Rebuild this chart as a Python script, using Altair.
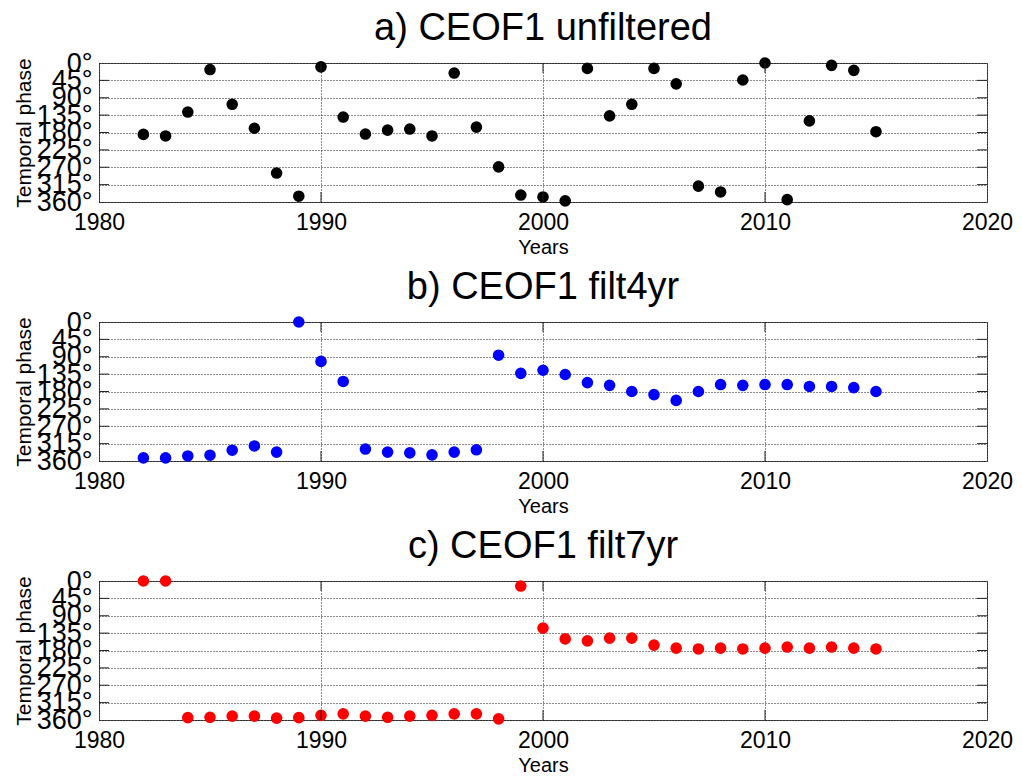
import altair as alt
import pandas as pd

# ---- data ----
years = list(range(1982, 2016))
phase_a = [185, 189, 127, 17, 107, 169, 285, 345, 10, 140, 184, 174, 171, 189, 26, 166,
           269, 342, 347, 357, 14, 137, 107, 14, 54, 319, 334, 44, 0, 354, 150, 6, 19, 178]
phase_b = [352, 352, 347, 345, 332, 321, 337, 0, 102, 154, 329, 337, 339, 344, 337, 331,
           86, 133, 125, 136, 157, 164, 180, 188, 203, 180, 162, 164, 162, 162, 167, 167, 170, 180]
phase_c = [0, 0, 354, 353, 350, 350, 355, 354, 348, 344, 350, 353, 350, 348, 344, 344,
           357, 13, 122, 150, 155, 148, 148, 166, 174, 176, 174, 176, 174, 171, 174, 171, 174, 176]

titles = ["a) CEOF1 unfiltered", "b) CEOF1 filt4yr", "c) CEOF1 filt7yr"]
colors = ["#000000", "#0000FF", "#FF0000"]
x_ticks = [1980, 1990, 2000, 2010, 2020]
y_ticks = [0, 45, 90, 135, 180, 225, 270, 315, 360]

W, H = 888, 139
FONT = "Liberation Sans, Arial, sans-serif"


def panel(values, color, title):
    df = pd.DataFrame({"year": years, "phase": values})
    xscale = alt.Scale(domain=[1980, 2020], nice=False, zero=False)
    yscale = alt.Scale(domain=[0, 360], reverse=True, nice=False, zero=False)
    xaxis = alt.Axis(values=x_ticks, format="d", title="Years",
                     labelFont=FONT, labelFontSize=23, labelColor="black",
                     labelFlush=False, labelPadding=9, labelOverlap=False,
                     titleFont=FONT, titleFontSize=20, titleFontWeight="normal",
                     titleColor="black", titlePadding=3,
                     grid=True, gridDash=[1, 2], gridColor="#000000", gridOpacity=0.9,
                     domain=False, ticks=False, tickSize=0)
    yaxis = alt.Axis(values=y_ticks, labelExpr="datum.value + '°'",
                     labelFont=FONT, labelFontSize=27, labelColor="black",
                     labelPadding=7, labelOverlap=False, labelBaseline="middle",
                     labelFlush=False,
                     title="Temporal phase", titleFont=FONT, titleFontSize=21,
                     titleFontWeight="normal", titleColor="black",
                     titleX=-75, titleY=H / 2, titleAlign="center",
                     titleBaseline="middle", titleAngle=270,
                     grid=True, gridDash=[1, 2], gridColor="#000000", gridOpacity=0.9,
                     domain=False, ticks=False, tickSize=0)

    ytick_df = pd.DataFrame({"phase": y_ticks[1:-1]})
    xtick_df = pd.DataFrame({"year": x_ticks[1:-1]})
    tick_color = "#222222"
    X = alt.X("year:Q", scale=xscale, axis=xaxis)
    Y = alt.Y("phase:Q", scale=yscale, axis=yaxis)
    pts = alt.Chart(df).mark_circle(size=135, opacity=1, color=color).encode(x=X, y=Y)
    left = alt.Chart(ytick_df).mark_rule(color=tick_color).encode(
        y=Y, x=alt.value(0), x2=alt.value(10))
    right = alt.Chart(ytick_df).mark_rule(color=tick_color).encode(
        y=Y, x=alt.value(W - 10), x2=alt.value(W))
    bottom = alt.Chart(xtick_df).mark_rule(color=tick_color).encode(
        x=X, y=alt.value(H - 10), y2=alt.value(H))
    top = alt.Chart(xtick_df).mark_rule(color=tick_color).encode(
        x=X, y=alt.value(0), y2=alt.value(10))

    return alt.layer(pts, left, right, bottom, top).properties(
        width=W, height=H,
        title=alt.TitleParams(title, font=FONT, fontSize=38, fontWeight="normal",
                              color="black", anchor="middle", frame="group",
                              baseline="alphabetic", offset=-29),
    )


chart = alt.vconcat(
    panel(phase_a, colors[0], titles[0]),
    panel(phase_b, colors[1], titles[1]),
    panel(phase_c, colors[2], titles[2]),
    spacing=10,
).properties(
    padding={"left": 12, "top": 9, "right": 5, "bottom": 5},
    background="white",
).configure_view(
    stroke="#555555", strokeWidth=1
)

chart.save("out.html", embed_options={"renderer": "svg", "actions": False})
